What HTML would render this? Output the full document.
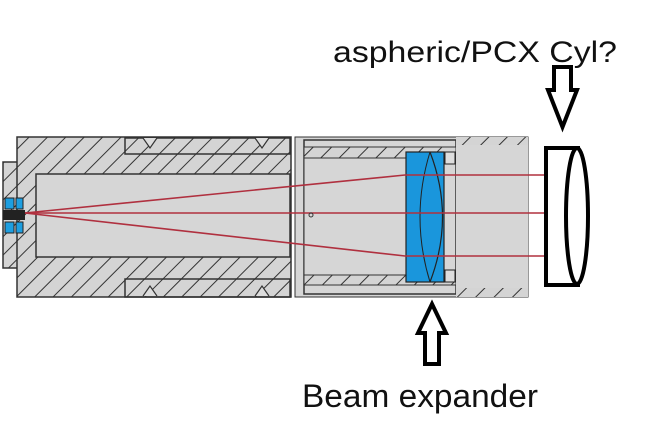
<!DOCTYPE html>
<html><head><style>
html,body{margin:0;padding:0;background:#fff;width:656px;height:431px;overflow:hidden}
svg{display:block}
text{font-family:"Liberation Sans",Arial,sans-serif;fill:#111}
</style></head><body>
<svg width="656" height="431" viewBox="0 0 656 431" xmlns="http://www.w3.org/2000/svg">
<defs>
<pattern id="h" patternUnits="userSpaceOnUse" width="13" height="13" patternTransform="rotate(45)">
<rect width="13" height="13" fill="#d4d4d4"/>
<line x1="0" y1="0" x2="0" y2="13" stroke="#333" stroke-width="2"/>
</pattern>
</defs>
<rect x="3" y="162" width="16" height="106" fill="url(#h)" stroke="#333" stroke-width="1.5"/>
<rect x="17" y="137" width="274" height="160" fill="url(#h)" stroke="#333" stroke-width="1.5"/>
<rect x="125" y="138" width="165" height="16" fill="none" stroke="#333" stroke-width="1.5"/>
<rect x="125" y="279" width="165" height="18" fill="none" stroke="#333" stroke-width="1.5"/>
<path d="M143 138 l7 10 l7 -10 M255 138 l7 10 l7 -10 M143 296 l7 -10 l7 10 M255 296 l7 -10 l7 10" fill="#ddd" stroke="#333" stroke-width="1.2"/>
<rect x="36" y="174" width="254" height="83" fill="#d6d6d6" stroke="#333" stroke-width="1.5"/>
<rect x="5" y="198" width="9" height="11" fill="#1d9ee0" stroke="#222"/>
<rect x="16" y="198" width="7" height="11" fill="#1d9ee0" stroke="#222"/>
<rect x="5" y="222" width="9" height="11" fill="#1d9ee0" stroke="#222"/>
<rect x="16" y="222" width="7" height="11" fill="#1d9ee0" stroke="#222"/>
<rect x="3" y="210" width="22" height="10" fill="#222"/>
<rect x="295" y="137" width="233" height="160" fill="#d6d6d6" stroke="#333" stroke-width="1"/>
<rect x="304" y="140" width="152" height="154" fill="#d6d6d6" stroke="#333" stroke-width="1.5"/>
<rect x="304" y="147" width="152" height="11" fill="url(#h)" stroke="#333" stroke-width="1"/>
<rect x="304" y="275" width="152" height="10" fill="url(#h)" stroke="#333" stroke-width="1"/>
<rect x="304" y="158" width="102" height="117" fill="#d6d6d6" stroke="#333" stroke-width="1"/>
<rect x="456" y="137" width="72" height="8" fill="url(#h)"/>
<rect x="456" y="288" width="72" height="9" fill="url(#h)"/>
<rect x="456" y="145" width="72" height="143" fill="#d6d6d6"/>
<rect x="406" y="152" width="38" height="130" fill="#1a96dc" stroke="#222" stroke-width="1.2"/>
<path d="M430 152 Q410 217 430 282" fill="none" stroke="#222" stroke-width="1"/>
<path d="M430 152 Q455 217 430 282" fill="#1a96dc" stroke="#222" stroke-width="1.2"/>
<rect x="445" y="152" width="10" height="12" fill="#ddd" stroke="#222"/>
<rect x="445" y="270" width="10" height="12" fill="#ddd" stroke="#222"/>
<g stroke="#b0303f" stroke-width="1.6" fill="none">
<path d="M25 213 L405 175 L545 175"/>
<path d="M25 213 L545 213"/>
<path d="M25 213 L405 256 L545 256"/>
</g>
<circle cx="311" cy="215" r="2" fill="none" stroke="#333"/>
<rect x="546" y="148" width="32" height="137" fill="#fff" stroke="#000" stroke-width="4"/>
<ellipse cx="577" cy="216" rx="11" ry="68" fill="#fff" stroke="#000" stroke-width="4"/>
<path d="M554 67 H571 V90 H577 L562.5 127 L548 90 H554 Z" fill="#fff" stroke="#000" stroke-width="4"/>
<path d="M432 304 L446 333 H439 V364 H425 V333 H418 Z" fill="#fff" stroke="#000" stroke-width="4"/>
<text x="333" y="62" font-size="30" textLength="284" lengthAdjust="spacingAndGlyphs">aspheric/PCX Cyl?</text>
<text x="302" y="407" font-size="32" textLength="236" lengthAdjust="spacingAndGlyphs">Beam expander</text>
</svg>
</body></html>
